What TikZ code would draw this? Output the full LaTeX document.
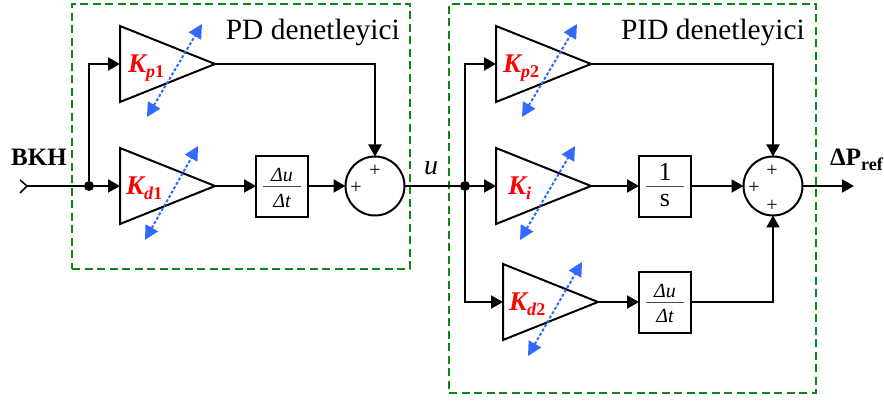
\documentclass[tikz,border=0pt]{standalone}
\usepackage{fontspec}
\setmainfont{Liberation Serif}
\usetikzlibrary{arrows.meta}
\tikzset{
  x=1pt,y=-1pt,
  wire/.style={line width=2pt,black,line join=miter,-{Triangle[length=12pt,width=13pt]}},
  plainwire/.style={line width=2pt,black,line join=miter},
  amp/.style={draw=black,line width=2pt,line join=miter},
  blk/.style={draw=black,line width=2pt,minimum width=52pt,minimum height=61pt,inner sep=0pt,outer sep=0pt},
  summer/.style={draw=black,line width=2pt,circle,minimum size=59pt,inner sep=0pt,outer sep=0pt},
  junction/.style={fill=black,circle,minimum size=10pt,inner sep=0pt,outer sep=0pt},
  groupbox/.style={draw={rgb,255:red,10;green,135;blue,20},line width=2pt,dash pattern=on 8pt off 4.5pt},
  tune/.style={draw={rgb,255:red,50;green,105;blue,255},line width=2pt,dash pattern=on 3pt off 2pt,{Triangle[length=14pt,width=14pt]}-{Triangle[length=14pt,width=14pt]}},
  gain/.style={text=red,font=\fontsize{27}{27}\selectfont\bfseries\itshape,inner sep=0pt},
  title/.style={font=\fontsize{29.4}{30}\selectfont,inner sep=0pt},
  plus/.style={font=\fontsize{20}{20}\selectfont,inner sep=0pt},
  lbl/.style={font=\fontsize{25}{25}\selectfont\bfseries,inner sep=0pt},
  frac/.style={font=\fontsize{20}{20}\selectfont\itshape,inner sep=0pt},
  fracone/.style={font=\fontsize{26}{26}\selectfont,inner sep=0pt},
  fracbar/.style={line width=1pt,black!70},
}
\newcommand{\subtxt}[1]{\raisebox{-5pt}{\fontsize{18}{18}\selectfont #1}}
% name, x of the flat side, y of the axis
\newcommand{\ampl}[3]{%
  \coordinate (#1-in) at (#2,#3);
  \coordinate (#1-out) at ({#2+95},#3);
  \coordinate (#1-top) at (#2,{#3-38});
  \coordinate (#1-bot) at (#2,{#3+38});
  \draw[amp] (#1-top) -- (#1-out) -- (#1-bot) -- cycle;
}
\begin{document}
\begin{tikzpicture}
\useasboundingbox (0,0) rectangle (884,403);
% group frames
\node[groupbox,minimum width=338pt,minimum height=265pt,inner sep=0pt,outer sep=0pt] (pdframe) at (241,136.5) {};
\node[groupbox,minimum width=367pt,minimum height=389pt,inner sep=0pt,outer sep=0pt] (pidframe) at (632.5,198.5) {};
\node[title,anchor=base east] (pdtitle) at (400,40) {PD denetleyici};
\node[title,anchor=base east] (pidtitle) at (805,40) {PID denetleyici};
% amplifiers
\ampl{kp1}{120}{64}
\ampl{kd1}{120}{186}
\ampl{kp2}{496}{64}
\ampl{ki}{496}{186}
\ampl{kd2}{503}{302}
% blocks
\node[blk] (d1) at (282,186.5) {};
\node[blk] (int) at (665,186.5) {};
\node[blk] (d2) at (665,302.5) {};
\node[fracone] (one) at (665,172) {1};
\node[fracone] (ess) at (665,201) {s};
\node[frac] (du1) at (282,175) {Δu};
\node[frac] (dt1) at (282,201) {Δt};
\node[frac] (du2) at (665,291) {Δu};
\node[frac] (dt2) at (665,316) {Δt};
\draw[fracbar] ([xshift=7pt]d1.west) -- ([xshift=-7pt]d1.east);
\draw[fracbar] ([xshift=7pt]int.west) -- ([xshift=-7pt]int.east);
\draw[fracbar] ([xshift=7pt]d2.west) -- ([xshift=-7pt]d2.east);
% summers
\node[summer] (s1) at (375,186) {};
\node[summer] (s2) at (773,186) {};
\node[plus] (p1) at (375,171) {+};
\node[plus] (p2) at (356,188) {+};
\node[plus] (p3) at (772,171) {+};
\node[plus] (p4) at (754,188) {+};
\node[plus] (p5) at (772,206) {+};
% junctions
\node[junction] (j1) at (89,186) {};
\node[junction] (j2) at (465,186) {};
% free ends
\coordinate (ca) at (20,180);
\coordinate (cb) at (27,186);
\coordinate (cc) at (20,193);
\coordinate (out) at (854,186);
% wiring
\draw[plainwire,line width=1.5pt] (ca) -- (cb) -- (cc);
\draw[plainwire] (cb) -- (j1);
\draw[wire] (j1) -- (kd1-in);
\draw[wire] (j1) |- (kp1-in);
\draw[wire] (kp1-out) -| (s1.north);
\draw[wire] (kd1-out) -- (d1.west |- kd1-out);
\draw[wire] (d1.east |- s1.west) -- (s1.west);
\draw[plainwire] (s1.east) -- (j2);
\draw[wire] (j2) -- (ki-in);
\draw[wire] (j2) |- (kp2-in);
\draw[wire] (j2) |- (kd2-in);
\draw[wire] (kp2-out) -| (s2.north);
\draw[wire] (ki-out) -- (int.west |- ki-out);
\draw[wire] (int.east |- s2.west) -- (s2.west);
\draw[wire] (kd2-out) -- (d2.west |- kd2-out);
\draw[wire] (d2.east |- kd2-out) -| (s2.south);
\draw[wire] (s2.east) -- (out);
% tuning arrows
\coordinate (a1) at (147,117); \coordinate (b1) at (202,24);
\coordinate (a2) at (145,240); \coordinate (b2) at (198,146);
\coordinate (a3) at (522,117); \coordinate (b3) at (577,24);
\coordinate (a4) at (520,240); \coordinate (b4) at (575,146);
\coordinate (a5) at (528,356); \coordinate (b5) at (582,262);
\draw[tune] (a1) -- (b1);
\draw[tune] (a2) -- (b2);
\draw[tune] (a3) -- (b3);
\draw[tune] (a4) -- (b4);
\draw[tune] (a5) -- (b5);
% gains
\node[gain,anchor=base west] (g1) at (128,73) {K\subtxt{p\textup{1}}};
\node[gain,anchor=base west] (g2) at (126,195) {K\subtxt{d\textup{1}}};
\node[gain,anchor=base west] (g3) at (503,73) {K\subtxt{p\textup{2}}};
\node[gain,anchor=base west] (g4) at (508,195) {K\subtxt{i}};
\node[gain,anchor=base west] (g5) at (509,311) {K\subtxt{d\textup{2}}};
% labels
\node[lbl,anchor=base west] (bkh) at (11,165.5) {BKH};
\node[inner sep=0pt,anchor=base,font=\fontsize{28}{28}\selectfont\itshape] (uu) at (431,175) {u};
\node[lbl,anchor=base west] (dp) at (830,166) {ΔP\subtxt{\bfseries ref}};
\end{tikzpicture}
\end{document}
